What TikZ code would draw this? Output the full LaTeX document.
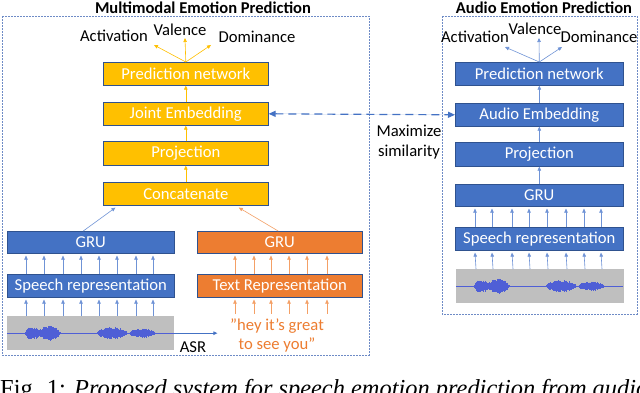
\documentclass[tikz,border=0pt]{standalone}
\usepackage{fontspec}
\setmainfont{Carlito}
\newfontfamily\capfont{Liberation Serif}
\usetikzlibrary{arrows.meta,calc}
\definecolor{bfill}{HTML}{4472C4}
\definecolor{bdraw}{HTML}{2F528F}
\definecolor{yfill}{HTML}{FFC000}
\definecolor{ofill}{HTML}{ED7D31}
\definecolor{framecol}{HTML}{6E8BC6}
\definecolor{wavegray}{HTML}{BFBFBF}
\definecolor{wavecol}{HTML}{4F5FD6}
\definecolor{yarr}{HTML}{FFC000}
\definecolor{barr}{HTML}{6F93D6}
\definecolor{oarr}{HTML}{F4A066}
\newcommand\mywave[1]{%
  \begin{scope}[shift={(#1.west)}]
    \draw[wavecol, line width=0.5bp] (0,0) -- (167,0);
    \pgfmathsetseed{7}
    \foreach \s/\e/\a in {18/33/7, 31/53/7.5, 90/120/6.5, 122/148/5}{
      \pgfmathtruncatemacro\n{2*(\e-\s)}
      \foreach \k in {0,...,\n}{
        \pgfmathsetmacro\xx{\s+\k/2}
        \pgfmathsetmacro\hh{\a*(sin(180*(\k+0.5)/(\n+1)))^0.6*(0.55+0.45*rnd)}
        \draw[wavecol, line width=0.6bp] (\xx,-\hh) -- (\xx,\hh);
      }
    }
  \end{scope}}
\begin{document}
\begin{tikzpicture}[x=1bp,y=-1bp,
  boxbase/.style={draw=bdraw, line width=0.6bp, text=white, inner sep=0pt,
    anchor=north west, font=\fontsize{16.7}{20}\selectfont},
  ybox/.style={boxbase, fill=yfill},
  bbox/.style={boxbase, fill=bfill},
  obox/.style={boxbase, fill=ofill},
  frame/.style={draw=framecol, line width=0.8bp, dash pattern=on 1.6bp off 1.4bp},
  ttl/.style={font=\bfseries\fontsize{16.6}{20}\selectfont},
  lbl/.style={font=\fontsize{16.7}{20}\selectfont},
  tip/.style={-{Triangle[length=4bp,width=3.5bp]}},
  yar/.style={tip, draw=yarr, line width=0.6bp},
  bar/.style={tip, draw=barr, line width=0.6bp},
  oar/.style={tip, draw=oarr, line width=0.6bp},
]
\clip (0,0) rectangle (640,392);
\fill[white] (0,0) rectangle (640,392);
% frames
\draw[frame] (2,16) rectangle (369,355);
\draw[frame] (442,16) rectangle (637,314);
\node[ttl] (t1) at (203,7.5) {Multimodal Emotion Prediction};
\node[ttl] (t2) at (544,7.5) {Audio Emotion Prediction};
% left column
\node[ybox, minimum width=165bp, minimum height=23bp] (predL) at (103,62) {Prediction network};
\node[ybox, minimum width=165bp, minimum height=23bp] (jointL) at (103,102) {Joint Embedding};
\node[ybox, minimum width=165bp, minimum height=24bp] (projL) at (103,141) {Projection};
\node[ybox, minimum width=165bp, minimum height=23bp] (concat) at (103,182) {Concatenate};
\node[bbox, minimum width=167bp, minimum height=22bp] (gruL) at (7,231) {GRU};
\node[bbox, minimum width=167bp, minimum height=23bp] (speechL) at (7,274) {Speech representation};
\node[fill=wavegray, anchor=north west, minimum width=167bp, minimum height=34bp, inner sep=0pt] (waveL) at (7,316) {};
\mywave{waveL}
\node[obox, minimum width=165bp, minimum height=22bp] (gruT) at (197,231) {GRU};
\node[obox, minimum width=165bp, minimum height=23bp] (textT) at (197,274) {Text Representation};
\node[lbl, text=ofill, align=center, inner sep=0pt] (quote) at (277,335.5) {”hey it’s great\\to see you”};
\node[lbl, inner sep=0pt] (asr) at (193,347) {ASR};
% left outputs
\node[lbl] (actL) at (114,36) {Activation};
\node[lbl] (valL) at (180,29.5) {Valence};
\node[lbl] (domL) at (257,37) {Dominance};
\coordinate (aL1) at (154,45);
\coordinate (aL2) at (185,38);
\coordinate (aL3) at (211,45);
\draw[yar] (predL.north) -- (aL1);
\draw[yar] (predL.north) -- (aL2);
\draw[yar] (predL.north) -- (aL3);
\draw[yar] (jointL.north) -- (predL.south);
\draw[yar] (projL.north) -- (jointL.south);
\draw[yar] (concat.north) -- (projL.south);
\draw[bar] ($(gruL.north west)!0.455!(gruL.north east)$) -- ($(concat.south west)!0.075!(concat.south east)+(0,2)$);
\draw[oar] ($(gruT.north west)!0.49!(gruT.north east)$) -- ($(concat.south west)!0.82!(concat.south east)+(0,2)$);
\foreach \d in {19,37,56,74,92,110,129,146}{
  \draw[bar] ($(speechL.north west)+(\d,0)$) -- ($(gruL.south west)+(\d,2)$);
  \draw[bar] ($(waveL.north west)+(\d,0)$) -- ($(speechL.south west)+(\d,2)$);
}
\foreach \d in {38,57,74,92,110,130}{
  \draw[oar] ($(textT.north west)+(\d,0)$) -- ($(gruT.south west)+(\d,2)$);
  \draw[oar] ($(textT.south west)+(\d,16)$) -- ($(textT.south west)+(\d,2)$);
}
\draw[bar, draw=bfill, line width=0.8bp] (waveL.east) -- ++(43,0);
% right column
\node[bbox, minimum width=168bp, minimum height=23bp] (predR) at (455,62) {Prediction network};
\node[bbox, minimum width=168bp, minimum height=23bp] (audioR) at (455,103) {Audio Embedding};
\node[bbox, minimum width=168bp, minimum height=24bp] (projR) at (455,142) {Projection};
\node[bbox, minimum width=168bp, minimum height=22bp] (gruR) at (455,184) {GRU};
\node[bbox, minimum width=168bp, minimum height=23bp] (speechR) at (455,227) {Speech representation};
\node[fill=wavegray, anchor=north west, minimum width=168bp, minimum height=34bp, inner sep=0pt] (waveR) at (456,269) {};
\mywave{waveR}
\node[lbl] (actR) at (475,37) {Activation};
\node[lbl] (valR) at (535,29) {Valence};
\node[lbl] (domR) at (599,37) {Dominance};
\coordinate (aR1) at (505,47);
\coordinate (aR2) at (539,38);
\coordinate (aR3) at (562,47);
\draw[bar] (predR.north) -- (aR1);
\draw[bar] (predR.north) -- (aR2);
\draw[bar] (predR.north) -- (aR3);
\draw[bar] (audioR.north) -- (predR.south);
\draw[bar] (projR.north) -- (audioR.south);
\draw[bar] (gruR.north) -- (projR.south);
\foreach \d in {20,37,57,74,92,111,129,146}{
  \draw[bar] ($(speechR.north west)+(\d,0)$) -- ($(gruR.south west)+(\d,2)$);
  \draw[bar] ($(waveR.north west)+(\d,0)$) -- ($(speechR.south west)+(\d,2)$);
}
% similarity
\draw[{Triangle[length=7bp,width=6bp]}-{Triangle[length=7bp,width=6bp]}, draw=bfill, fill=bfill, line width=1.2bp, dash pattern=on 8bp off 5bp] (jointL.east) -- (audioR.west);
\node[lbl, align=center, inner sep=0pt] (maxsim) at (409,142) {Maximize\\similarity};
% caption
\node[anchor=base west, inner sep=0pt, font=\capfont\fontsize{24.5}{28}\selectfont] (cap) at (0,396.5) {Fig. 1: \textit{Proposed system for speech emotion prediction from audio}};
\end{tikzpicture}
\end{document}
